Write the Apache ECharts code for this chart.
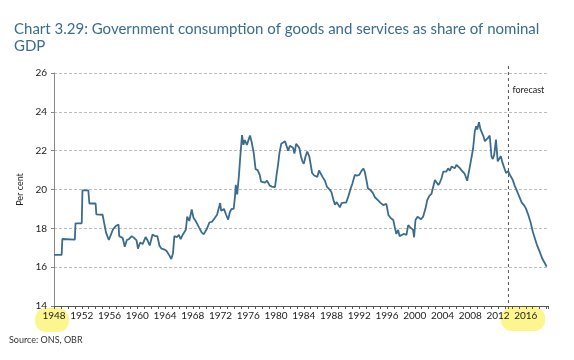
<!DOCTYPE html>
<html>
<head>
<meta charset="utf-8">
<script src="https://cdn.jsdelivr.net/npm/echarts@6/dist/echarts.min.js"></script>
<style>
html,body{margin:0;padding:0;background:#fff;}
#c{width:574px;height:360px;}
</style>
</head>
<body>
<div id="c"></div>
<script>
// ---- data ----
var titleText = 'Chart 3.29: Government consumption of goods and services as share of nominal\nGDP';
var yAxisName = 'Per cent';
var sourceText = 'Source: ONS, OBR';
var forecastLabel = 'forecast';
var forecastStart = 2013.5;
var yTicks = [14, 16, 18, 20, 22, 24, 26];
var xLabelYears = [1948,1952,1956,1960,1964,1968,1972,1976,1980,1984,1988,1992,1996,2000,2004,2008,2012,2016];

var years = [
1948.0,1949.1,1949.2,1951.0,1951.1,1952.0,1952.1,1952.95,1953.1,1954.0,1954.1,1955.0,1955.5,1955.9,1956.1,1956.5,1956.9,1957.1,1957.3,1957.4,
1957.9,1958.2,1958.5,1958.8,1959.2,1959.5,1959.9,1960.1,1960.4,1960.8,1961.2,1961.5,1961.8,1962.2,1962.55,1962.9,1963.2,1963.5,1963.85,1964.2,
1964.6,1964.9,1965.15,1965.35,1965.7,1966.0,1966.25,1966.6,1967.0,1967.2,1967.5,1967.85,1968.1,1968.45,1968.9,1969.3,1969.6,1970.0,1970.4,1970.8,
1971.2,1971.5,1971.75,1971.95,1972.1,1972.5,1972.8,1973.1,1973.35,1973.6,1973.9,1974.1,1974.2,1974.4,1974.65,1974.85,1975.1,1975.3,1975.5,1975.8,
1976.05,1976.25,1976.5,1976.8,1977.05,1977.35,1977.65,1977.85,1978.1,1978.4,1978.7,1979.1,1979.4,1979.85,1980.1,1980.3,1980.5,1980.75,1981.0,1981.3,
1981.55,1981.75,1982.0,1982.2,1982.45,1982.65,1982.9,1983.1,1983.35,1983.6,1983.8,1984.0,1984.25,1984.5,1984.8,1985.0,1985.2,1985.5,1985.75,1985.95,
1986.2,1986.45,1986.7,1987.05,1987.35,1987.8,1988.0,1988.25,1988.5,1988.75,1989.0,1989.2,1989.45,1989.75,1990.1,1990.4,1990.75,1991.0,1991.35,1991.65,
1992.0,1992.3,1992.6,1992.8,1993.05,1993.25,1993.6,1994.0,1994.25,1994.5,1994.75,1995.1,1995.45,1995.9,1996.2,1996.55,1996.9,1997.15,1997.35,1997.6,
1997.8,1998.0,1998.4,1998.8,1999.05,1999.35,1999.75,1999.9,2000.1,2000.4,2000.65,2000.9,2001.2,2001.55,2001.8,2002.1,2002.4,2002.65,2002.9,2003.15,
2003.4,2003.6,2003.85,2004.1,2004.35,2004.55,2004.8,2005.05,2005.3,2005.55,2005.75,2006.0,2006.25,2006.5,2006.75,2007.0,2007.2,2007.55,2007.95,2008.15,
2008.4,2008.65,2008.85,2009.0,2009.25,2009.45,2009.7,2009.9,2010.1,2010.35,2010.55,2010.8,2011.05,2011.25,2011.45,2011.7,2011.95,2012.15,2012.4,2012.65,
2012.9,2013.15,2013.45,2013.7,2014.1,2014.4,2014.75,2015.15,2015.4,2015.7,2016.0,2016.35,2016.7,2017.0,2017.3,2017.6,2018.0,2018.35,2018.75,2019.0
];
var values = [
16.63,16.63,17.45,17.42,18.26,18.26,19.95,19.95,19.28,19.28,18.72,18.70,17.78,17.40,17.42,17.95,18.12,18.18,18.20,17.60,
17.50,17.05,17.40,17.44,17.60,17.52,17.38,16.95,17.26,17.20,17.55,17.37,17.12,17.68,17.60,17.60,17.10,16.95,16.92,16.84,
16.62,16.42,16.72,17.60,17.55,17.66,17.44,17.70,17.93,18.60,18.38,18.97,18.55,18.36,18.05,17.78,17.70,17.95,18.30,18.35,
18.55,18.70,18.72,19.30,18.90,19.00,18.70,18.45,18.84,19.00,19.00,19.70,20.24,19.75,20.70,21.70,22.80,22.30,22.55,22.30,
22.25,22.78,22.42,21.85,21.05,21.00,20.75,20.40,20.47,20.35,20.45,20.20,20.15,20.12,20.80,21.30,21.90,22.35,22.45,22.48,
22.40,22.00,22.25,22.35,22.15,21.85,22.35,22.40,22.15,21.70,21.45,21.32,21.70,21.95,21.70,21.62,20.85,20.72,20.72,20.65,
20.98,20.90,20.65,20.45,20.13,19.97,19.85,19.50,19.22,19.35,19.33,19.08,19.30,19.32,19.32,19.62,20.04,20.30,20.75,20.72,
20.75,20.95,21.08,20.90,20.45,20.05,19.98,19.80,19.60,19.60,19.43,19.30,19.20,19.26,18.69,18.52,18.43,18.00,17.71,17.92,
17.60,17.66,17.71,17.66,18.17,18.05,17.92,17.54,18.43,18.60,18.64,18.47,18.60,19.03,19.46,19.67,19.77,19.74,20.49,20.40,
20.23,20.35,20.58,20.92,20.97,20.92,21.09,20.97,21.18,21.15,21.09,21.26,21.31,21.10,20.98,20.90,20.80,20.45,21.20,21.30,
22.10,23.00,23.26,23.09,23.47,23.12,23.05,22.74,22.49,22.57,22.66,22.78,21.71,21.57,21.80,22.57,21.45,21.54,21.71,21.37,
21.11,20.85,20.94,20.76,20.51,20.20,19.90,19.56,19.34,19.21,19.04,18.70,18.30,17.84,17.49,17.15,16.80,16.46,16.20,16.03
];

var seriesData = years.map(function (y, i) { return [y, values[i]]; });

var FONT = 'Lato, "Noto Sans", sans-serif';
var chart = echarts.init(document.getElementById('c'), null, {renderer: 'canvas'});

var option = {
  animation: false,
  backgroundColor: '#ffffff',
  title: {
    text: titleText,
    left: 9,
    top: 16,
    textStyle: {
      color: '#3a6d8e',
      fontFamily: FONT,
      fontSize: 15,
      fontWeight: 'normal',
      lineHeight: 17
    }
  },
  grid: { left: 54, right: 26, top: 73, bottom: 54, containLabel: false },
  xAxis: {
    type: 'value',
    min: 1948,
    max: 2019.2,
    interval: 1,
    axisLine: { show: true, lineStyle: { color: '#555', width: 1 } },
    axisTick: { show: true, length: 3, lineStyle: { color: '#555' } },
    splitLine: { show: false },
    axisLabel: {
      color: '#222',
      fontFamily: FONT,
      fontSize: 10,
      margin: 5,
      formatter: function (v) {
        var r = Math.round(v);
        return (Math.abs(v - r) < 1e-6 && xLabelYears.indexOf(r) >= 0) ? String(r) : '';
      }
    }
  },
  yAxis: {
    type: 'value',
    min: yTicks[0],
    max: yTicks[yTicks.length - 1],
    interval: 2,
    name: yAxisName,
    nameLocation: 'middle',
    nameRotate: 90,
    nameGap: 27,
    nameTextStyle: { color: '#222', fontFamily: FONT, fontSize: 9 },
    axisLine: { show: true, lineStyle: { color: '#888', width: 1 } },
    axisTick: { show: true, length: 3, lineStyle: { color: '#888' } },
    axisLabel: { color: '#222', fontFamily: FONT, fontSize: 10, margin: 7 },
    splitLine: { show: true, lineStyle: { color: '#bdbdbd', type: [3, 2], width: 1 } }
  },
  series: [{
    type: 'line',
    data: seriesData,
    showSymbol: false,
    symbol: 'none',
    lineStyle: { color: '#3b6c8d', width: 1.8 },
    z: 3
  }]
};
chart.setOption(option);

// annotations positioned through the axes
var top26 = chart.convertToPixel({xAxisIndex: 0, yAxisIndex: 0}, [forecastStart, yTicks[yTicks.length - 1]]);
var bot14 = chart.convertToPixel({xAxisIndex: 0, yAxisIndex: 0}, [forecastStart, yTicks[0]]);
var p1948 = chart.convertToPixel({xAxisIndex: 0, yAxisIndex: 0}, [1948, yTicks[0]]);
var p2012 = chart.convertToPixel({xAxisIndex: 0, yAxisIndex: 0}, [2012.4, yTicks[0]]);
var p2017 = chart.convertToPixel({xAxisIndex: 0, yAxisIndex: 0}, [2018.8, yTicks[0]]);

chart.setOption({
  graphic: [
    { type: 'rect', z: -1, silent: true,
      shape: { x: p1948[0] - 19, y: p1948[1] + 2, width: 34, height: 24, r: 11 },
      style: { fill: '#fdf47a', opacity: 0.85 } },
    { type: 'rect', z: -1, silent: true,
      shape: { x: p2012[0], y: p2012[1] + 1, width: p2017[0] - p2012[0], height: 24, r: 11 },
      style: { fill: '#fdf47a', opacity: 0.85 } },
    { type: 'line', silent: true, z: 10,
      shape: { x1: top26[0], y1: top26[1] - 7, x2: bot14[0], y2: bot14[1] + 5 },
      style: { stroke: '#555', lineWidth: 1, lineDash: [3, 3] } },
    { type: 'text', silent: true, z: 10,
      x: top26[0] + 4, y: top26[1] + 17,
      style: { text: forecastLabel, fill: '#222', font: '9px ' + FONT, textVerticalAlign: 'middle' } },
    { type: 'text', silent: true, z: 10,
      left: 9, top: 336,
      style: { text: sourceText, fill: '#333', font: '9px ' + FONT } }
  ]
});
</script>
</body>
</html>
